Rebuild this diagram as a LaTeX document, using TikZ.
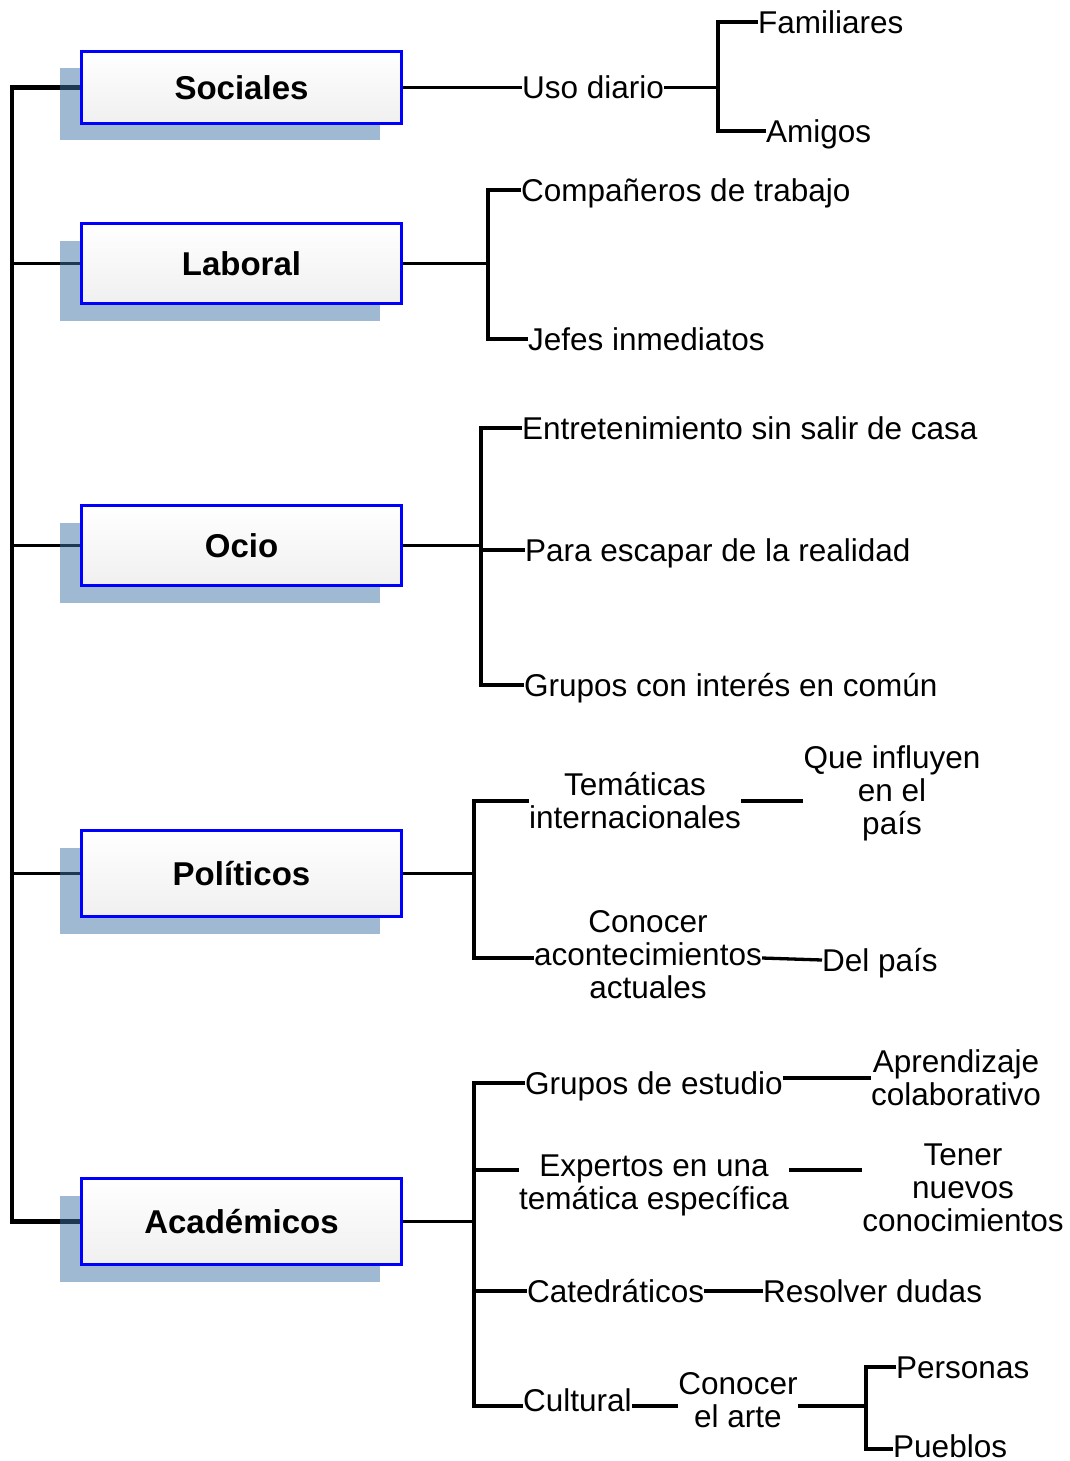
\documentclass[tikz,border=0pt]{standalone}
\usepackage{fontspec}
\setmainfont{Liberation Sans}
\usetikzlibrary{shadows}
\definecolor{shadowbase}{RGB}{63,115,167}
\definecolor{boxblue}{RGB}{0,0,255}
\pgfdeclarelayer{background}
\pgfsetlayers{background,main}
\begin{document}
\begin{tikzpicture}[x=1pt,y=-1pt,
  mainbox/.style={draw=boxblue, line width=3.5pt, top color=white, bottom color=gray!12,
    minimum width=320pt, inner sep=0pt, font=\fontsize{33}{36}\selectfont\bfseries,
    drop shadow={shadow xshift=-22pt, shadow yshift=-17pt, fill=shadowbase, opacity=0.5}},
  leaf/.style={inner sep=0pt, font=\fontsize{31.5}{33}\selectfont, text height=22.5pt, text depth=0pt, anchor=west},
  multi/.style={inner sep=0pt, font=\fontsize{31.5}{33}\selectfont, align=center},
  conn/.style={line width=3.3pt, black},
  trunkline/.style={line width=4.5pt, black}]
\useasboundingbox (0,0) rectangle (1070,1461);

% main boxes
\node[mainbox, minimum height=72pt] (soc) at (241.5,87.5) {Sociales};
\node[mainbox, minimum height=80pt] (lab) at (241.5,263.5) {Laboral};
\node[mainbox, minimum height=80pt] (oci) at (241.5,545.5) {Ocio};
\node[mainbox, minimum height=86pt] (pol) at (241.5,873.5) {Políticos};
\node[mainbox, minimum height=86pt] (aca) at (241.5,1221.5) {Académicos};

% junction coordinates
\coordinate (trunk) at (12,0);
\coordinate (j1) at (718,87.5);
\coordinate (jl) at (488,263.5);
\coordinate (jo) at (481,545.5);
\coordinate (jp) at (474,873.5);
\coordinate (ja) at (474,1221.5);
\coordinate (jexp) at (474,1170);
\coordinate (jc) at (866,1406);

% leaf texts
\node[leaf] (uso) at (522,87.5) {Uso diario};
\node[leaf] (fam) at (758,22) {Familiares};
\node[leaf] (ami) at (766,131) {Amigos};
\node[leaf] (comp) at (521,190) {Compañeros de trabajo};
\node[leaf] (jef) at (528,339) {Jefes inmediatos};
\node[leaf] (ent) at (522,428) {Entretenimiento sin salir de casa};
\node[leaf] (par) at (525,550) {Para escapar de la realidad};
\node[leaf] (gru) at (524,685) {Grupos con interés en común};
\node[multi] (tem) at (635,801) {Temáticas\\internacionales};
\node[multi] (que) at (892,793) {Que influyen\\en el\\país};
\node[multi] (con) at (648,955) {Conocer\\acontecimientos\\actuales};
\node[leaf] (del) at (822,960) {Del país};
\node[leaf] (gde) at (525,1083) {Grupos de estudio};
\node[multi] (apr) at (956,1078) {Aprendizaje\\colaborativo};
\node[multi] (exp) at (654,1185) {Expertos en una\\temática específica};
\node[multi] (ten) at (963,1188) {Tener\\nuevos\\conocimientos};
\node[leaf] (cat) at (527,1291) {Catedráticos};
\node[leaf] (res) at (763,1291) {Resolver dudas};
\node[leaf] (cul) at (523,1400) {Cultural};
\node[multi] (art) at (738,1400) {Conocer\\el arte};
\node[leaf] (per) at (896,1367) {Personas};
\node[leaf] (pue) at (893,1446) {Pueblos};

\begin{pgfonlayer}{background}
% trunk
\draw[trunkline] (soc.west) -- (soc.west -| trunk) -- (aca.west -| trunk) -- (aca.west);
\draw[conn] (lab.west) -- (lab.west -| trunk);
\draw[conn] (oci.west) -- (oci.west -| trunk);
\draw[conn] (pol.west) -- (pol.west -| trunk);
% Sociales
\draw[conn] (soc.east) -- (uso.west);
\draw[conn] (uso.east) -- (j1);
\draw[conn] (fam.west) -| (j1);
\draw[conn] (ami.west) -| (j1);
% Laboral
\draw[conn] (lab.east) -- (jl);
\draw[conn] (comp.west) -| (jl);
\draw[conn] (jef.west) -| (jl);
% Ocio
\draw[conn] (oci.east) -- (jo);
\draw[conn] (ent.west) -| (jo);
\draw[conn] (par.west) -| (jo);
\draw[conn] (gru.west) -| (jo);
% Politicos
\draw[conn] (pol.east) -- (jp);
\draw[conn] (tem.west) -| (jp);
\draw[conn] (con.west |- 0,958) -| (jp);
\draw[conn] (tem.east) -- (tem.east -| que.west);
\draw[conn] (con.east |- 0,958) -- (del.west);
% Academicos
\draw[conn] (aca.east) -- (ja);
\draw[conn] (gde.west) -| (ja);
\draw[conn] (exp.west |- jexp) -| (ja);
\draw[conn] (cat.west) -| (ja);
\draw[conn] (cul.west |- jc) -| (ja);
\draw[conn] (apr.west -| gde.east) -- (apr.west);
\draw[conn] (exp.east |- jexp) -- (ten.west |- jexp);
\draw[conn] (cat.east) -- (res.west);
\draw[conn] (cul.east |- jc) -- (art.west |- jc);
\draw[conn] (art.east |- jc) -- (jc);
\draw[conn] (per.west) -| (jc);
\draw[conn] (pue.west |- 0,1449) -| (jc);
\end{pgfonlayer}
\end{tikzpicture}
\end{document}
